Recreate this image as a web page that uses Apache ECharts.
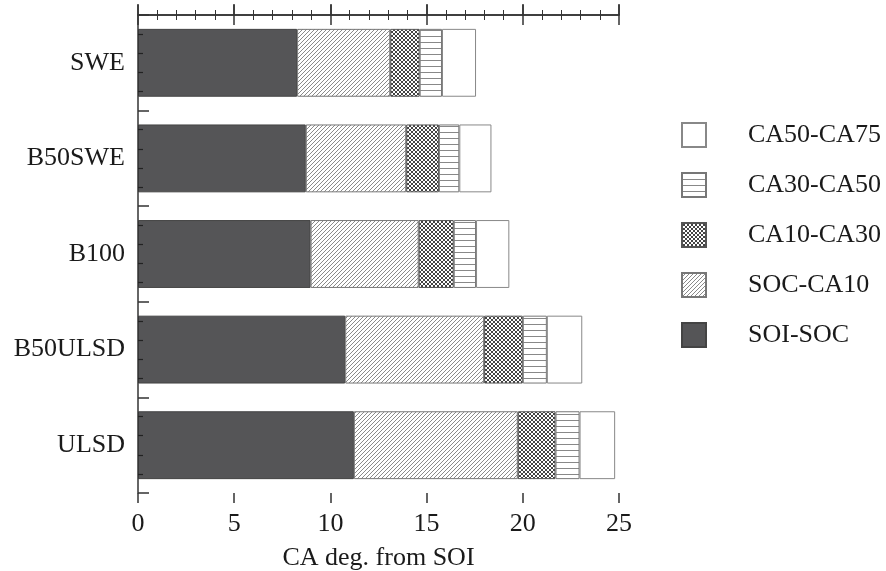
<!DOCTYPE html>
<html><head><meta charset="utf-8">
<script src="https://cdn.jsdelivr.net/npm/echarts@6/dist/echarts.min.js"></script>
<style>html,body{margin:0;padding:0;background:#fff}#c{width:886px;height:571px}</style>
</head><body><div id="c"></div>
<script>
const categories = ['SWE', 'B50SWE', 'B100', 'B50ULSD', 'ULSD'];
const soiSoc   = [8.27, 8.72, 8.97, 10.77, 11.22];
const socCa10  = [4.84, 5.22, 5.62, 7.22, 8.52];
const ca10Ca30 = [1.53, 1.70, 1.82, 2.01, 1.96];
const ca30Ca50 = [1.16, 1.06, 1.16, 1.25, 1.25];
const ca50Ca75 = [1.77, 1.67, 1.73, 1.84, 1.85];
const seriesNames = ['SOI-SOC', 'SOC-CA10', 'CA10-CA30', 'CA30-CA50', 'CA50-CA75'];
const legendOrder = ['CA50-CA75', 'CA30-CA50', 'CA10-CA30', 'SOC-CA10', 'SOI-SOC'];
const xTicks = [0, 5, 10, 15, 20, 25];

function pat(w, h, draw) {
  const c = document.createElement('canvas');
  c.width = w; c.height = h;
  const ctx = c.getContext('2d');
  ctx.fillStyle = '#fff'; ctx.fillRect(0, 0, w, h);
  draw(ctx);
  return { image: c, repeat: 'repeat' };
}
const diag = pat(4, 4, ctx => {
  ctx.strokeStyle = '#8a8a8a'; ctx.lineWidth = 1;
  ctx.beginPath();
  ctx.moveTo(0, 4); ctx.lineTo(4, 0);
  ctx.moveTo(-1, 1); ctx.lineTo(1, -1);
  ctx.moveTo(3, 5); ctx.lineTo(5, 3);
  ctx.stroke();
});
const cross = pat(4, 4, ctx => {
  ctx.strokeStyle = '#444'; ctx.lineWidth = 1;
  ctx.beginPath();
  ctx.moveTo(0, 4); ctx.lineTo(4, 0);
  ctx.moveTo(0, 0); ctx.lineTo(4, 4);
  ctx.stroke();
});
const horiz = pat(6, 6, ctx => {
  ctx.fillStyle = '#888';
  ctx.fillRect(0, 0, 6, 1);
});

const fills = ['#555557', diag, cross, horiz, '#ffffff'];
const borders = ['#444', '#777', '#555', '#777', '#888'];
const values = [soiSoc, socCa10, ca10Ca30, ca30Ca50, ca50Ca75];
const FONT = 'Liberation Serif';
const FS = 26;

const chart = echarts.init(document.getElementById('c'));
const lineStyle = { color: '#333', width: 1.5 };
const minorStyle = { color: '#333', width: 1 };
const common = { min: 0, max: 25, interval: 5, type: 'value', splitLine: { show: false }, z: 10 };
chart.setOption({
  animation: false,
  backgroundColor: '#fff',
  grid: { left: 138, right: 267, top: 15, bottom: 78, containLabel: false, outerBoundsMode: 'none' },
  legend: {
    data: legendOrder,
    orient: 'vertical',
    left: 681, top: 122, padding: 0,
    itemWidth: 24, itemHeight: 24, itemGap: 24,
    icon: 'rect',
    textStyle: { fontFamily: FONT, fontSize: FS, lineHeight: 24, color: '#1a1a1a', padding: [0, 0, 0, 37] }
  },
  xAxis: [
    Object.assign({}, common, {
      position: 'bottom',
      name: 'CA deg. from SOI', nameLocation: 'middle', nameGap: 52,
      nameTextStyle: { fontFamily: FONT, fontSize: FS, color: '#1a1a1a' },
      axisLine: { lineStyle },
      axisTick: { inside: true, length: 10, lineStyle },
      minorTick: { show: true, splitNumber: 5, length: 5, lineStyle: minorStyle },
      axisLabel: { fontFamily: FONT, fontSize: FS, color: '#1a1a1a', margin: 18,
        formatter: v => xTicks.includes(v) ? String(v) : '' }
    }),
    Object.assign({}, common, {
      position: 'bottom',
      axisLine: { show: false },
      axisTick: { inside: false, length: 10, lineStyle },
      axisLabel: { show: false }
    }),
    Object.assign({}, common, {
      position: 'top',
      axisLine: { lineStyle },
      axisTick: { inside: true, length: 10, lineStyle },
      minorTick: { show: true, splitNumber: 5, length: 5, lineStyle: minorStyle },
      axisLabel: { show: false }
    }),
    Object.assign({}, common, {
      position: 'top',
      axisLine: { show: false },
      axisTick: { inside: false, length: 11, lineStyle },
      axisLabel: { show: false }
    })
  ],
  yAxis: [
    {
      type: 'category', data: categories, inverse: true,
      axisLine: { lineStyle },
      axisTick: { inside: false, length: 9, lineStyle },
      axisLabel: { fontFamily: FONT, fontSize: FS, color: '#1a1a1a', margin: 13 },
      z: 10
    },
    {
      type: 'value', min: 0, max: 5, interval: 1, position: 'left', inverse: true,
      axisLine: { show: false },
      axisTick: { show: true, inside: true, length: 11, lineStyle },
      minorTick: { show: true, splitNumber: 5, length: 5, lineStyle: { color: '#222', width: 1.2 } },
      axisLabel: { show: false }, splitLine: { show: false }, z: 10
    }
  ],
  series: seriesNames.map((name, i) => ({
    name, type: 'bar', stack: 'total', barWidth: '71%',
    xAxisIndex: 0, yAxisIndex: 0,
    data: values[i],
    itemStyle: { color: fills[i], borderColor: borders[i], borderWidth: 1 },
    emphasis: { disabled: true }
  }))
});
</script></body></html>
